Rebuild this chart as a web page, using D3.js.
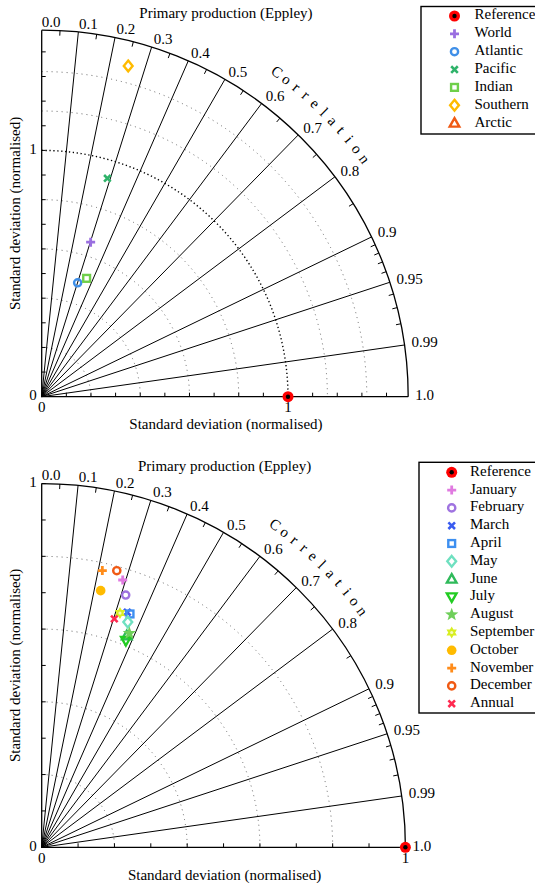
<!DOCTYPE html>
<html>
<head>
<meta charset="utf-8">
<script src="https://cdn.jsdelivr.net/npm/d3@7"></script>
<style>
  html, body { margin: 0; padding: 0; background: #fff; }
  svg { display: block; }
  text { font-family: "Liberation Serif", "Times New Roman", serif; fill: #000; }
</style>
</head>
<body>
<svg id="chart" width="535" height="883"></svg>
<script>
// ---------------- DATA ----------------
const chartTitle = "Primary production (Eppley)";
const axisLabel = "Standard deviation (normalised)";
const corrWord = "Correlation";
const corrTickValues = [0, 0.1, 0.2, 0.3, 0.4, 0.5, 0.6, 0.7, 0.8, 0.9, 0.95, 0.99, 1.0];
const corrTickLabels = ["0.0","0.1","0.2","0.3","0.4","0.5","0.6","0.7","0.8","0.9","0.95","0.99","1.0"];
const corrMinorTicks = [0.05,0.15,0.25,0.35,0.45,0.55,0.65,0.75,0.85,0.91,0.92,0.93,0.94,0.96,0.97,0.98];

// Top panel: ocean basins
const basinNames = ["Reference", "World", "Atlantic", "Pacific", "Indian", "Southern", "Arctic"];
const basinStd   = [1.0, 0.658, 0.485, 0.926, 0.514, 1.388, null];
const basinCorr  = [1.0, 0.302, 0.301, 0.288, 0.355, 0.253, null];
const basinStdMax = 1.488;
const basinStdArcs = [0.2, 0.4, 0.6, 0.8, 1.16, 1.32];

// Bottom panel: months
const monthNames = ["Reference", "January", "February", "March", "April", "May", "June",
  "July", "August", "September", "October", "November", "December", "Annual"];
const monthStd  = [1.0, 0.768, 0.731, 0.688, 0.686, 0.663, 0.627, 0.614, 0.636, 0.679, 0.724, 0.779, 0.788, 0.659];
const monthCorr = [1.0, 0.290, 0.316, 0.342, 0.354, 0.357, 0.373, 0.377, 0.379, 0.317, 0.224, 0.214, 0.262, 0.303];
const monthStdMax = 1.0;
const monthStdArcs = [0.2, 0.4, 0.6, 0.8];

// ---------------- STYLES ----------------
const basinStyle = [
  {sym: "ref", color: "#ff0000"},
  {sym: "plus", color: "#9a6fe0"},
  {sym: "circle", color: "#3f8fe8"},
  {sym: "times", color: "#2fb36a"},
  {sym: "square", color: "#6fcf4a"},
  {sym: "diamond", color: "#ffbb00"},
  {sym: "triUp", color: "#f05a14"}
];
const monthStyle = [
  {sym: "ref", color: "#ff0000"},
  {sym: "plus", color: "#e07ae0"},
  {sym: "circle", color: "#9f73e0"},
  {sym: "times", color: "#3a5cf0"},
  {sym: "square", color: "#3d8ff0"},
  {sym: "diamond", color: "#6fe0c0"},
  {sym: "triUp", color: "#2fba5a"},
  {sym: "triDown", color: "#22cc22"},
  {sym: "star", color: "#6fcf5a"},
  {sym: "hexagram", color: "#d8ee22"},
  {sym: "dot", color: "#ffbb00"},
  {sym: "plus", color: "#ff8c1a"},
  {sym: "circle", color: "#f05a14"},
  {sym: "times", color: "#ff2a50"}
];

const svg = d3.select("#chart");

function drawSymbol(g, type, color, x, y) {
  const s = g.append("g").attr("transform", `translate(${x},${y})`);
  const sw = 2.4;
  switch (type) {
    case "ref":
      s.append("circle").attr("r", 5.5).attr("fill", color);
      s.append("circle").attr("r", 2.2).attr("fill", "#000");
      break;
    case "plus":
      s.append("path").attr("d", "M-4.5,0H4.5M0,-4.5V4.5").attr("stroke", color).attr("stroke-width", 2.8).attr("fill", "none");
      break;
    case "times":
      s.append("path").attr("d", "M-3.3,-3.3L3.3,3.3M-3.3,3.3L3.3,-3.3").attr("stroke", color).attr("stroke-width", 2.6).attr("fill", "none");
      break;
    case "circle":
      s.append("circle").attr("r", 3.6).attr("stroke", color).attr("stroke-width", sw).attr("fill", "none");
      break;
    case "square":
      s.append("rect").attr("x", -3.4).attr("y", -3.4).attr("width", 6.8).attr("height", 6.8)
        .attr("stroke", color).attr("stroke-width", sw).attr("fill", "none");
      break;
    case "diamond":
      s.append("path").attr("d", "M0,-5.4L4.4,0L0,5.4L-4.4,0Z").attr("stroke", color).attr("stroke-width", sw).attr("fill", "none");
      break;
    case "triUp":
      s.append("path").attr("d", "M0,-5L4.8,3.5L-4.8,3.5Z").attr("stroke", color).attr("stroke-width", sw).attr("fill", "none").attr("stroke-linejoin", "miter");
      break;
    case "triDown":
      s.append("path").attr("d", "M0,5L4.8,-3.5L-4.8,-3.5Z").attr("stroke", color).attr("stroke-width", sw).attr("fill", "none");
      break;
    case "star": {
      const pts = [];
      for (let i = 0; i < 10; i++) {
        const a = -Math.PI / 2 + i * Math.PI / 5;
        const rr = i % 2 === 0 ? 7 : 2.9;
        pts.push([rr * Math.cos(a), rr * Math.sin(a)]);
      }
      s.append("path").attr("d", "M" + pts.join("L") + "Z").attr("fill", color);
      break;
    }
    case "hexagram": {
      const t1 = [], t2 = [];
      for (let i = 0; i < 3; i++) {
        const a1 = -Math.PI / 2 + i * 2 * Math.PI / 3;
        const a2 = Math.PI / 2 + i * 2 * Math.PI / 3;
        t1.push([6 * Math.cos(a1), 6 * Math.sin(a1)]);
        t2.push([6 * Math.cos(a2), 6 * Math.sin(a2)]);
      }
      s.append("path").attr("d", "M" + t1.join("L") + "ZM" + t2.join("L") + "Z").attr("fill", color);
      s.append("circle").attr("r", 1.6).attr("fill", "#ffffff").attr("opacity", 0.7);
      break;
    }
    case "dot":
      s.append("circle").attr("r", 4.8).attr("fill", color);
      break;
  }
}

function taylor(o) {
  const g = svg.append("g").attr("transform", `translate(${o.x0},${o.y0})`);
  const r = d3.scaleLinear().domain([0, o.max]).range([0, o.R]);
  const R = o.R;
  const pos = (s, c) => { const t = Math.acos(c); return [r(s) * Math.cos(t), -r(s) * Math.sin(t)]; };
  const arcPath = rr => `M0,${-rr}A${rr},${rr} 0 0 1 ${rr},0`;

  // dotted std arcs
  o.arcs.forEach(v => {
    g.append("path").attr("d", arcPath(r(v))).attr("fill", "none")
      .attr("stroke", "#666").attr("stroke-width", 1).attr("stroke-dasharray", "1,4");
  });
  if (o.refArc) {
    g.append("path").attr("d", arcPath(r(1))).attr("fill", "none")
      .attr("stroke", "#000").attr("stroke-width", 1.4).attr("stroke-dasharray", "1.3,2.6");
  }
  // correlation rays
  corrTickValues.filter(c => c > 0 && c < 1).forEach(c => {
    const p = pos(o.max, c);
    g.append("line").attr("x1", 0).attr("y1", 0).attr("x2", p[0]).attr("y2", p[1])
      .attr("stroke", "#000").attr("stroke-width", 1);
  });
  // minor ticks on the outer arc
  corrMinorTicks.forEach(c => {
    const t = Math.acos(c);
    g.append("line")
      .attr("x1", R * Math.cos(t)).attr("y1", -R * Math.sin(t))
      .attr("x2", (R - 5) * Math.cos(t)).attr("y2", -(R - 5) * Math.sin(t))
      .attr("stroke", "#000").attr("stroke-width", 1);
  });
  // outer arc + axes
  g.append("path").attr("d", arcPath(R)).attr("fill", "none").attr("stroke", "#000").attr("stroke-width", 1.3);
  g.append("line").attr("x1", 0).attr("y1", 0).attr("x2", R).attr("y2", 0).attr("stroke", "#000").attr("stroke-width", 1.3);
  g.append("line").attr("x1", 0).attr("y1", 0).attr("x2", 0).attr("y2", -R).attr("stroke", "#000").attr("stroke-width", 1.3);
  // axis ticks every 0.1
  const ticks = d3.range(0.1, o.max + 1e-6, 0.1);
  ticks.forEach(v => {
    g.append("line").attr("x1", r(v)).attr("x2", r(v)).attr("y1", 0).attr("y2", -4).attr("stroke", "#000");
    g.append("line").attr("y1", -r(v)).attr("y2", -r(v)).attr("x1", 0).attr("x2", 4).attr("stroke", "#000");
  });
  // axis tick labels
  const fs = 15;
  g.append("text").attr("x", -5).attr("y", 0).attr("text-anchor", "end").attr("dominant-baseline", "middle").attr("font-size", fs).text("0");
  g.append("text").attr("x", 0).attr("y", 12).attr("text-anchor", "middle").attr("dominant-baseline", "middle").attr("font-size", fs).text("0");
  g.append("text").attr("x", -5).attr("y", -r(1)).attr("text-anchor", "end").attr("dominant-baseline", "middle").attr("font-size", fs).text("1");
  g.append("text").attr("x", r(1)).attr("y", 12).attr("text-anchor", "middle").attr("dominant-baseline", "middle").attr("font-size", fs).text("1");
  // correlation labels
  corrTickValues.forEach((c, i) => {
    const t = Math.acos(c);
    g.append("text").attr("x", (R + 7) * Math.cos(t)).attr("y", -(R + 7) * Math.sin(t))
      .attr("dominant-baseline", "middle").attr("font-size", fs).text(corrTickLabels[i]);
  });
  // "Correlation" along the arc
  const letters = corrWord.split("");
  const a0 = 54.1, a1 = 36.4, rl = R + 33;
  letters.forEach((ch, i) => {
    const a = a0 + (a1 - a0) * i / (letters.length - 1);
    const t = a * Math.PI / 180;
    const x = rl * Math.cos(t), y = -rl * Math.sin(t);
    g.append("text").attr("transform", `translate(${x},${y}) rotate(${90 - a})`)
      .attr("text-anchor", "middle").attr("dominant-baseline", "middle").attr("font-size", fs).text(ch);
  });
  // titles
  g.append("text").attr("x", R / 2 + 1).attr("y", -R - 16).attr("text-anchor", "middle").attr("dominant-baseline", "middle").attr("font-size", fs).text(chartTitle);
  g.append("text").attr("x", R / 2 + 1).attr("y", 29).attr("text-anchor", "middle").attr("dominant-baseline", "middle").attr("font-size", fs).text(axisLabel);
  g.append("text").attr("transform", `translate(-25,${-R / 2}) rotate(-90)`).attr("text-anchor", "middle").attr("dominant-baseline", "middle").attr("font-size", fs).text(axisLabel);

  // points (non-reference first, reference last)
  o.names.forEach((n, i) => {
    if (o.std[i] == null || i === 0) return;
    const p = pos(o.std[i], o.corr[i]);
    drawSymbol(g, o.style[i].sym, o.style[i].color, p[0], p[1]);
  });
  const pr = pos(o.std[0], o.corr[0]);
  drawSymbol(g, "ref", o.style[0].color, pr[0], pr[1]);

  // legend
  const lg = svg.append("g");
  lg.append("rect").attr("x", o.legX).attr("y", o.legY).attr("width", 140).attr("height", o.legH)
    .attr("fill", "#fff").attr("stroke", "#000").attr("stroke-width", 1.4);
  o.names.forEach((n, i) => {
    const y = o.legY + o.legFirst + i * o.legStep;
    drawSymbol(lg, o.style[i].sym, o.style[i].color, o.legX + o.legSymDx, y);
    lg.append("text").attr("x", o.legX + o.legTextDx).attr("y", y).attr("dominant-baseline", "middle")
      .attr("font-size", fs).text(n);
  });
}

taylor({
  x0: 41.7, y0: 396.7, R: 366.5, max: basinStdMax, arcs: basinStdArcs, refArc: true,
  names: basinNames, std: basinStd, corr: basinCorr, style: basinStyle,
  legX: 421, legY: 6.5, legH: 127.5, legFirst: 9.5, legStep: 17.85, legSymDx: 33.5, legTextDx: 53.5
});
taylor({
  x0: 41.7, y0: 847.3, R: 363.7, max: monthStdMax, arcs: monthStdArcs, refArc: false,
  names: monthNames, std: monthStd, corr: monthCorr, style: monthStyle,
  legX: 419, legY: 462.3, legH: 250.7, legFirst: 10, legStep: 17.8, legSymDx: 32.7, legTextDx: 51
});
</script>
</body>
</html>
